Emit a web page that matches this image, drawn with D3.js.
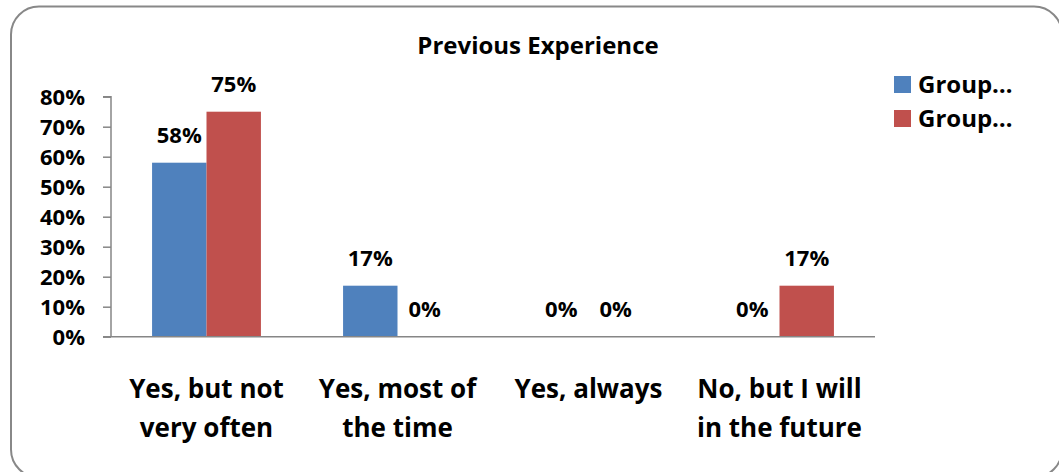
<!DOCTYPE html>
<html>
<head>
<meta charset="utf-8">
<script src="https://cdn.jsdelivr.net/npm/d3@7"></script>
<style>
  html, body { margin: 0; padding: 0; background: #fff; }
  svg { display: block; font-family: "Open Sans", sans-serif; font-weight: 700; }
</style>
</head>
<body>
<svg id="chart" width="1059" height="472"></svg>
<script>
// Chart data
const title = "Previous Experience";
const categories = [
  ["Yes, but not", "very often"],
  ["Yes, most of", "the time"],
  ["Yes, always"],
  ["No, but I will", "in the future"]
];
const seriesNames = ["Group…", "Group…"];
const seriesColors = ["#4F81BD", "#C0504D"];
const group1 = [58, 17, 0, 0];
const group2 = [75, 0, 0, 17];
const yTicks = [0, 10, 20, 30, 40, 50, 60, 70, 80];

const svg = d3.select("#chart");

// Rounded chart frame
svg.append("rect")
  .attr("x", 11).attr("y", 6.5)
  .attr("width", 1051).attr("height", 471)
  .attr("rx", 28).attr("ry", 28)
  .attr("fill", "#fff")
  .attr("stroke", "#888")
  .attr("stroke-width", 2);

const plot = { left: 111, right: 875, top: 96.7, bottom: 336.7 };

const x0 = d3.scaleBand()
  .domain(d3.range(categories.length))
  .range([plot.left, plot.right])
  .paddingInner(0).paddingOuter(0);

const groupFrac = 0.57;
const x1 = d3.scaleBand()
  .domain([0, 1])
  .range([0, x0.bandwidth() * groupFrac]);
const groupOffset = x0.bandwidth() * (1 - groupFrac) / 2;

const y = d3.scaleLinear().domain([0, 80]).range([plot.bottom, plot.top]);

// Title
svg.append("text")
  .attr("x", 538).attr("y", 54)
  .attr("text-anchor", "middle")
  .attr("font-size", 24)
  .text(title);

// Y axis
const yAxis = d3.axisLeft(y)
  .tickValues(yTicks)
  .tickFormat(d => d + "%")
  .tickSize(8)
  .tickPadding(18);

const yg = svg.append("g")
  .attr("transform", `translate(${plot.left},0)`)
  .call(yAxis);
yg.select(".domain").attr("stroke", "#868686").attr("stroke-width", 1.5)
  .attr("d", `M-8,${plot.top}H0V${plot.bottom}`);
yg.selectAll(".tick line").attr("stroke", "#868686").attr("stroke-width", 1.5);
yg.selectAll(".tick text")
  .attr("font-size", 22)
  .attr("font-family", "'Open Sans', sans-serif")
  .attr("font-weight", 700)
  .attr("fill", "#000");
yg.selectAll(".tick text").attr("dy", "0.36em");

// Bars
const series = [group1, group2];
series.forEach((vals, s) => {
  svg.append("g")
    .selectAll("rect")
    .data(vals)
    .join("rect")
    .attr("x", (d, i) => x0(i) + groupOffset + x1(s))
    .attr("y", d => y(d))
    .attr("width", x1.bandwidth())
    .attr("height", d => y(0) - y(d))
    .attr("fill", seriesColors[s]);

  svg.append("g")
    .selectAll("text")
    .data(vals)
    .join("text")
    .attr("x", (d, i) => x0(i) + groupOffset + x1(s) + x1.bandwidth() / 2)
    .attr("y", d => y(d) - 20)
    .attr("text-anchor", "middle")
    .attr("font-size", 22)
    .text(d => d + "%");
});

// X axis baseline
svg.append("line")
  .attr("x1", plot.left - 8).attr("x2", plot.right)
  .attr("y1", plot.bottom).attr("y2", plot.bottom)
  .attr("stroke", "#868686").attr("stroke-width", 1.5);

// Category labels
const catG = svg.append("g");
categories.forEach((lines, i) => {
  const t = catG.append("text")
    .attr("x", x0(i) + x0.bandwidth() / 2)
    .attr("y", 398)
    .attr("text-anchor", "middle")
    .attr("font-size", 26);
  lines.forEach((ln, k) => {
    t.append("tspan")
      .attr("x", x0(i) + x0.bandwidth() / 2)
      .attr("y", 398 + k * 39)
      .text(ln);
  });
});

// Legend
const legend = svg.append("g");
seriesNames.forEach((name, s) => {
  legend.append("rect")
    .attr("x", 894).attr("y", 76 + s * 34)
    .attr("width", 17).attr("height", 17)
    .attr("fill", seriesColors[s]);
  legend.append("text")
    .attr("x", 918).attr("y", 93 + s * 34)
    .attr("font-size", 24)
    .text(name);
});
</script>
</body>
</html>
